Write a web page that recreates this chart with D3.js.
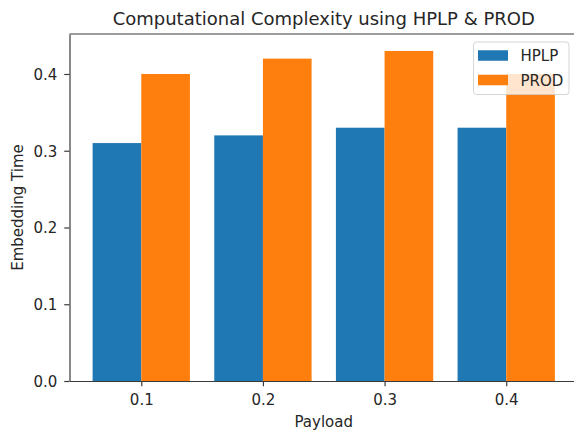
<!DOCTYPE html>
<html>
<head>
<meta charset="utf-8">
<script src="https://cdn.jsdelivr.net/npm/d3@7"></script>
<style>
  html, body { margin: 0; padding: 0; background: #fff; }
  svg { display: block; font-family: "DejaVu Sans", sans-serif; }
</style>
</head>
<body>
<svg id="chart" width="574" height="432"></svg>
<script>
// Payload levels and embedding times for the two methods
const payloads = [0.1, 0.2, 0.3, 0.4];
const hplp = [0.31, 0.32, 0.33, 0.33];
const prod = [0.40, 0.42, 0.43, 0.40];
const seriesNames = ["HPLP", "PROD"];
const seriesColors = ["#1f77b4", "#ff7f0e"];
const yTicks = [0.0, 0.1, 0.2, 0.3, 0.4];
const barWidth = 0.04;

const svg = d3.select("#chart");

// plot area (right edge runs slightly past the canvas)
const plotLeft = 69.5, plotRight = 578, plotTop = 34, plotBottom = 381;

const x = d3.scaleLinear().domain([0.041, 0.459]).range([plotLeft, plotRight]);
const y = d3.scaleLinear().domain([0, 0.4521]).range([plotBottom, plotTop]);

const textColor = "#262626";
const spineColor = "#3a3a3a";

// bars: HPLP to the left of each payload value, PROD to the right
const series = [hplp, prod];
series.forEach((vals, si) => {
  svg.append("g")
    .selectAll("rect")
    .data(payloads.map((p, i) => ({ p, v: vals[i] })))
    .join("rect")
    .attr("x", d => si === 0 ? x(d.p - barWidth) : x(d.p))
    .attr("width", d => x(d.p + barWidth) - x(d.p))
    .attr("y", d => y(d.v))
    .attr("height", d => y(0) - y(d.v))
    .attr("fill", seriesColors[si]);
});

// axes
const xAxis = d3.axisBottom(x)
  .tickValues(payloads)
  .tickFormat(d3.format(".1f"))
  .tickSize(5.25)
  .tickSizeOuter(0);
const yAxis = d3.axisLeft(y)
  .tickValues(yTicks)
  .tickFormat(d3.format(".1f"))
  .tickSize(5.25)
  .tickPadding(7)
  .tickSizeOuter(0);

const gx = svg.append("g").attr("transform", `translate(0,${plotBottom})`).call(xAxis);
const gy = svg.append("g").attr("transform", `translate(${plotLeft},0)`).call(yAxis);

[gx, gy].forEach(g => {
  g.select(".domain").attr("stroke", spineColor).attr("stroke-width", 1.2);
  g.selectAll(".tick line").attr("stroke", spineColor).attr("stroke-width", 1.2);
  g.selectAll(".tick text")
    .attr("fill", textColor)
    .style("font-size", "15px")
    .style("font-family", "'DejaVu Sans', sans-serif");
});
gx.selectAll(".tick text").attr("y", 24).attr("dy", null);
gy.selectAll(".tick text").attr("dy", "0.36em");

// top spine
svg.append("line")
  .attr("x1", plotLeft).attr("x2", plotRight)
  .attr("y1", plotTop).attr("y2", plotTop)
  .attr("stroke", spineColor).attr("stroke-width", 1.2);

// title and axis labels
svg.append("text")
  .attr("x", (plotLeft + plotRight) / 2).attr("y", 25)
  .attr("text-anchor", "middle")
  .attr("fill", textColor)
  .style("font-size", "18px")
  .text("Computational Complexity using HPLP & PROD");

svg.append("text")
  .attr("x", (plotLeft + plotRight) / 2).attr("y", 427)
  .attr("text-anchor", "middle")
  .attr("fill", textColor)
  .style("font-size", "15px")
  .text("Payload");

svg.append("text")
  .attr("transform", `translate(23,${(plotTop + plotBottom) / 2}) rotate(-90)`)
  .attr("text-anchor", "middle")
  .attr("fill", textColor)
  .style("font-size", "15px")
  .text("Embedding Time");

// legend in the upper right corner
const legend = svg.append("g");
legend.append("rect")
  .attr("x", 473.5).attr("y", 42)
  .attr("width", 95.5).attr("height", 52.5)
  .attr("rx", 3).attr("ry", 3)
  .attr("fill", "#fff").attr("fill-opacity", 0.8)
  .attr("stroke", "#cccccc").attr("stroke-opacity", 0.8).attr("stroke-width", 1);

const rowY = [55.5, 80];
seriesNames.forEach((name, i) => {
  legend.append("rect")
    .attr("x", 478).attr("y", rowY[i] - 5.25)
    .attr("width", 30).attr("height", 10.5)
    .attr("fill", seriesColors[i]);
  legend.append("text")
    .attr("x", 520.5).attr("y", rowY[i] + 5.5)
    .attr("fill", textColor)
    .style("font-size", "15px")
    .text(name);
});
</script>
</body>
</html>
